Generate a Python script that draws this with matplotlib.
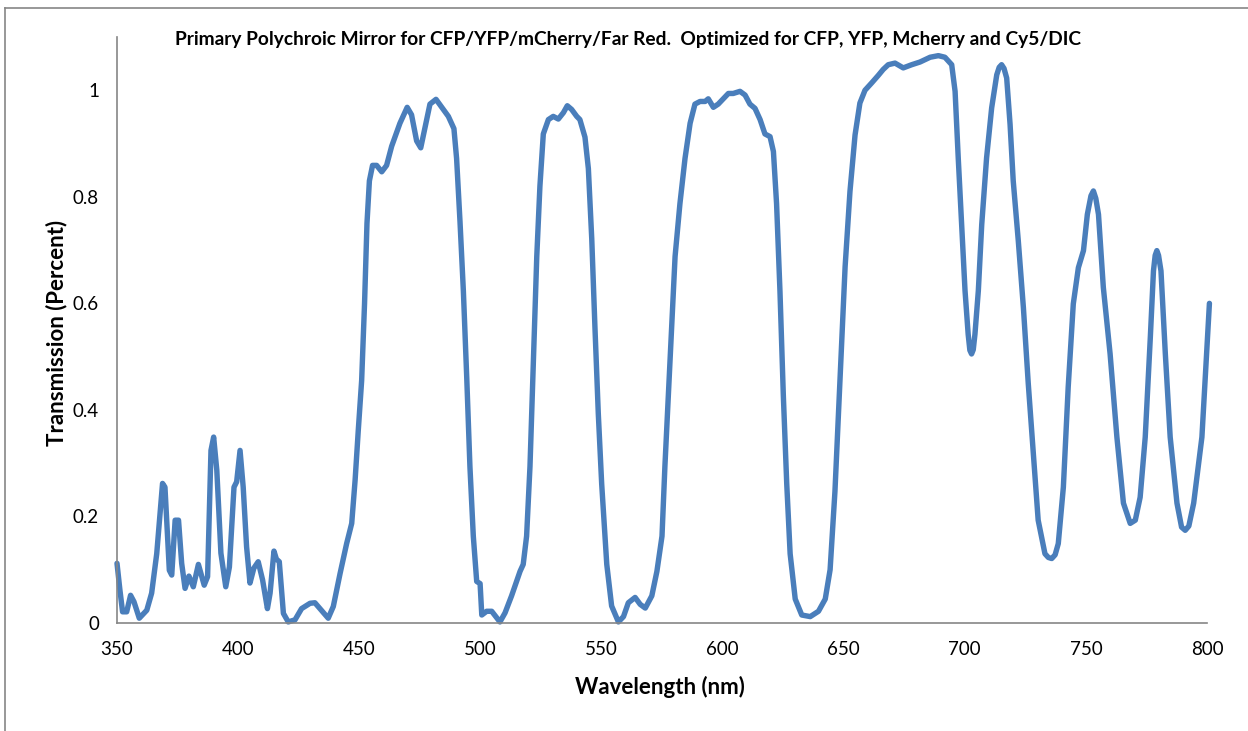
import matplotlib
matplotlib.use("Agg")
import matplotlib.pyplot as plt
from matplotlib.lines import Line2D

plt.rcParams['font.family'] = ['Lato', 'DejaVu Sans']

# wavelength (nm) and transmission
wavelength = [
    350, 351.2, 352.3, 354, 355.6, 357, 359.2, 362.3, 364.3, 366.4,
    368.8, 369.8, 371.6, 372.6, 374, 375.4, 376.7, 378.1, 379.7, 381.5,
    383.6, 386, 387.4, 388.8, 389.9, 391.2, 392.9, 394.9, 396.4, 398.3,
    399.4, 400.8, 402.1, 403.5, 404.9, 406.5, 408.3, 410.1, 412.1, 413.2,
    414.8, 415.8, 417, 418.7, 420.7, 423.5, 426.2, 429.7, 431.7, 433.8,
    437.2, 439.3, 442.1, 444.8, 446.9, 448.3, 449.6, 451, 452.2, 453.2,
    454.2, 455.5, 457.2, 459.3, 461.3, 463.4, 466.8, 469.8, 471.6, 473.7,
    475.4, 477.2, 479.2, 481.7, 484.1, 486.8, 489.1, 490.2, 491.6, 493,
    494.4, 495.7, 497.1, 498.5, 499.9, 500.6, 502.6, 504.7, 508.1, 510.2,
    512.9, 516.4, 517.7, 519.1, 520.5, 521.9, 523.3, 524.6, 526, 528.1,
    530.1, 532.2, 534.3, 535.9, 537.7, 539.8, 541.1, 543.2, 544.6, 546,
    547.3, 548.7, 550.1, 552.2, 554.2, 557, 559.1, 561.1, 563.9, 566,
    568.1, 570.8, 572.9, 575, 576.2, 577.6, 579, 580.4, 582.4, 584.5,
    586.6, 588.6, 590.7, 592.8, 594.1, 596.2, 598.2, 600.3, 602.4, 604.4,
    607.2, 609.3, 611.3, 613.4, 615.5, 617.5, 619.6, 621, 622.3, 623.7,
    625.1, 626.5, 627.9, 630, 632.7, 636.2, 639.6, 642.4, 644.4, 646.4,
    648.5, 650.6, 652.6, 654.7, 656.7, 658.8, 661.6, 664.3, 666.3, 668.4,
    671.2, 674.6, 678.1, 681.5, 685.7, 689.1, 691.8, 694.6, 696, 697.3,
    698.7, 700.1, 701.4, 702.1, 702.8, 703.5, 704.2, 705.6, 707, 709,
    711.1, 713.2, 714.2, 715.2, 716.2, 717.3, 718.7, 720, 722.1, 724.2,
    726.2, 728.3, 730.3, 733.1, 734.5, 735.9, 737.3, 738.6, 740.7, 742.7,
    744.8, 746.9, 749, 750.6, 752.1, 753.1, 754.1, 755.2, 757.2, 760,
    762.8, 765.5, 768.3, 770.4, 772.4, 774.5, 776.6, 777.9, 778.6, 779.3,
    780, 781, 782.8, 784.8, 787.6, 789.5, 791, 792.5, 794.5, 797.9,
    801,
]
transmission = [
    0.112, 0.062, 0.021, 0.021, 0.052, 0.04, 0.009, 0.024, 0.056, 0.13,
    0.262, 0.255, 0.099, 0.09, 0.193, 0.193, 0.112, 0.065, 0.088, 0.068,
    0.11, 0.071, 0.087, 0.324, 0.349, 0.287, 0.131, 0.068, 0.105, 0.255,
    0.265, 0.324, 0.255, 0.143, 0.075, 0.103, 0.115, 0.081, 0.027, 0.056,
    0.135, 0.12, 0.115, 0.018, 0.002, 0.006, 0.027, 0.037, 0.038, 0.027,
    0.009, 0.031, 0.093, 0.149, 0.187, 0.268, 0.361, 0.455, 0.6, 0.75,
    0.83, 0.859, 0.859, 0.847, 0.859, 0.895, 0.938, 0.968, 0.954, 0.905,
    0.892, 0.931, 0.974, 0.983, 0.968, 0.951, 0.928, 0.872, 0.754, 0.623,
    0.459, 0.294, 0.163, 0.078, 0.074, 0.015, 0.022, 0.022, 0.002, 0.019,
    0.051, 0.097, 0.11, 0.163, 0.294, 0.491, 0.688, 0.82, 0.918, 0.945,
    0.951, 0.946, 0.958, 0.971, 0.964, 0.951, 0.945, 0.912, 0.853, 0.721,
    0.557, 0.393, 0.261, 0.11, 0.032, 0.002, 0.012, 0.038, 0.048, 0.035,
    0.028, 0.051, 0.097, 0.163, 0.294, 0.426, 0.557, 0.688, 0.787, 0.872,
    0.938, 0.974, 0.979, 0.979, 0.984, 0.968, 0.974, 0.984, 0.994, 0.994,
    0.998, 0.991, 0.974, 0.966, 0.945, 0.918, 0.913, 0.885, 0.787, 0.623,
    0.426, 0.261, 0.13, 0.045, 0.015, 0.012, 0.022, 0.045, 0.1, 0.247,
    0.458, 0.669, 0.81, 0.916, 0.976, 1.0, 1.014, 1.028, 1.039, 1.048,
    1.051, 1.042, 1.048, 1.053, 1.062, 1.065, 1.062, 1.048, 0.998, 0.873,
    0.748, 0.624, 0.542, 0.512, 0.505, 0.513, 0.542, 0.624, 0.748, 0.873,
    0.967, 1.029, 1.043, 1.048, 1.041, 1.023, 0.936, 0.83, 0.717, 0.592,
    0.45, 0.318, 0.193, 0.13, 0.123, 0.121, 0.128, 0.149, 0.255, 0.443,
    0.599, 0.667, 0.699, 0.767, 0.802, 0.811, 0.797, 0.767, 0.63, 0.505,
    0.349, 0.225, 0.187, 0.193, 0.236, 0.349, 0.536, 0.661, 0.69, 0.699,
    0.69, 0.661, 0.505, 0.349, 0.225, 0.18, 0.174, 0.182, 0.225, 0.349,
    0.6,
]

x_ticks = [350, 400, 450, 500, 550, 600, 650, 700, 750, 800]
y_ticks = [0, 0.2, 0.4, 0.6, 0.8, 1]
y_tick_labels = ['0', '0.2', '0.4', '0.6', '0.8', '1']

title = ('Primary Polychroic Mirror for CFP/YFP/mCherry/Far Red.  '
         'Optimized for CFP, YFP, Mcherry and Cy5/DIC')

fig = plt.figure(figsize=(12.48, 7.31), dpi=100)
ax = fig.add_axes([117 / 1248, 1 - 623 / 731, 1090 / 1248, 586 / 731])

ax.plot(wavelength, transmission, color='#4a7ebb', lw=3.9,
        solid_joinstyle='round', solid_capstyle='round', clip_on=False)

ax.set_xlim(350, 800)
ax.set_ylim(0, 1.1)
ax.set_xticks(x_ticks)
ax.set_yticks(y_ticks)
ax.set_yticklabels(y_tick_labels)
ax.tick_params(length=0, labelsize=13.5, colors='black')
ax.tick_params(axis='x', pad=13)
ax.tick_params(axis='y', pad=13)

for side in ['top', 'right']:
    ax.spines[side].set_visible(False)
for side in ['left', 'bottom']:
    ax.spines[side].set_color('#868686')
    ax.spines[side].set_linewidth(1.2)

ax.set_xlabel('Wavelength (nm)', fontsize=16, fontweight='bold', va='center')
ax.set_ylabel('Transmission (Percent)', fontsize=16, fontweight='bold', va='center')
ax.xaxis.set_label_coords((660 - 117) / 1090, (623 - 687) / 586)
ax.yaxis.set_label_coords((57 - 117) / 1090, (623 - 333) / 586)

fig.text(628 / 1248, 1 - 40 / 731, title, ha='center', va='center',
         fontsize=13.8, fontweight='bold')

# chart area border (only top and left edges are in frame)
top = 1 - 8.3 / 731
fig.add_artist(Line2D([5 / 1248, 1], [top, top], color='#868686', lw=1.2))
fig.add_artist(Line2D([5 / 1248, 5 / 1248], [0, top], color='#868686', lw=1.2))

fig.savefig('out.png', dpi=100)
